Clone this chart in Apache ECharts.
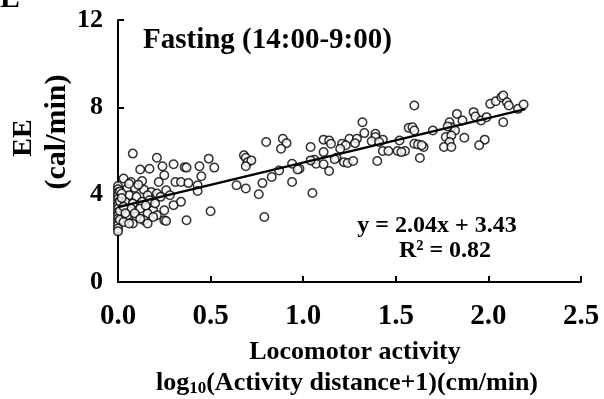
<!DOCTYPE html>
<html>
<head>
<meta charset="utf-8">
<script src="https://cdn.jsdelivr.net/npm/echarts@6/dist/echarts.min.js"></script>
<style>
html,body{margin:0;padding:0;background:#fff;}
#chart{width:604px;height:399px;}
</style>
</head>
<body>
<div id="chart"></div>
<script>
// Locomotor activity, log10(distance+1)
const activityX = [
  0,0,0,0,0,0,0,0,0,0,0,0,0,0,0,
  0.01,0.01,0.01,0.01,
  0.08,0.21,0.12,0.17,0.24,0.30,0.36,0.25,0.03,0.07,0.13,0.22,0.31,0.34,
  0.05,0.09,0.14,0.18,0.06,0.10,0.16,0.21,0.26,0.04,0.08,0.13,0.17,0.23,0.28,0.07,0.12,0.19,0.25,0.05,0.10,0.16,0.21,0.03,0.08,0.14,0.19,0.25,0.37,0.30,0.34,0.26,0.16,0.06,0.50,
  0.02,0.03,0.04,0.11,0.15,0.20,0.09,0.02,0.06,0.12,
  0.49,0.44,0.52,0.37,0.45,0.38,0.43,0.43,0.68,0.69,0.70,0.72,0.69,0.64,0.69,0.76,0.78,0.79,0.80,
  0.89,0.91,0.88,1.04,1.11,1.14,1.15,1.11,0.94,0.98,0.97,0.87,0.83,0.94,1.05,1.06,1.07,1.11,1.14,1.18,1.04,
  1.32,1.33,1.25,1.29,1.28,1.21,1.23,1.20,1.39,1.39,1.43,1.37,1.41,1.52,1.57,1.60,1.60,1.43,1.46,1.51,1.55,1.53,1.22,1.24,1.27,1.40,1.17,
  1.83,1.92,1.93,1.96,1.99,2.01,1.79,1.80,1.78,1.86,1.82,1.70,1.59,1.60,1.62,1.65,1.64,1.77,1.80,1.79,1.76,1.80,1.87,1.98,1.95,1.63,
  2.04,2.07,2.08,2.10,2.11,2.16,2.19,2.08
];
// Energy expenditure (cal/min)
const eeY = [
  4.40,4.25,4.10,3.95,3.80,3.65,3.50,3.35,3.20,3.05,2.90,2.75,2.60,2.45,2.32,
  4.15,3.70,3.25,2.85,
  5.88,5.69,5.15,5.19,5.30,5.39,5.26,4.89,4.74,4.58,4.63,4.58,4.58,4.58,
  4.28,4.32,4.23,4.12,3.97,3.90,3.97,4.05,4.20,3.67,3.59,3.67,3.74,3.90,3.97,3.37,3.37,3.29,3.29,3.06,2.98,3.14,3.06,2.75,2.68,2.83,2.98,2.83,2.83,3.52,3.67,2.79,2.68,2.68,3.24,
  4.05,3.45,3.15,4.45,3.50,3.60,3.15,3.85,4.50,2.90,
  5.65,5.30,5.24,5.24,4.84,4.53,4.43,4.17,5.80,5.69,5.49,5.57,5.30,4.43,4.28,4.02,4.53,2.98,6.41,
  6.56,6.36,6.10,6.18,6.52,6.48,6.33,5.95,5.42,5.19,5.15,5.11,4.81,4.58,4.08,5.60,5.42,5.39,5.08,5.69,5.57,
  7.32,6.82,6.56,6.56,6.36,6.33,6.26,6.10,6.79,6.64,6.52,6.45,6.41,6.48,7.06,8.08,6.33,6.00,6.00,6.00,6.00,5.95,5.49,5.45,5.54,5.54,5.62,
  7.70,7.78,7.58,7.40,7.55,8.16,7.32,7.09,7.12,7.40,6.94,6.94,7.09,6.94,6.30,6.18,6.26,6.64,6.71,6.41,6.18,6.18,6.61,6.52,6.26,5.68,
  8.28,8.46,8.54,8.23,8.08,7.93,8.13,7.32
];
const xTicks = [0.0, 0.5, 1.0, 1.5, 2.0, 2.5];
const yTicks = [0, 4, 8, 12];
const fitSlope = 2.04;
const fitIntercept = 3.43;
const fitRange = [0, 2.2];
const r2 = 0.82;

const chart = echarts.init(document.getElementById('chart'), null, {renderer: 'canvas'});
const FONT = '"Liberation Serif", "Times New Roman", serif';
const points = activityX.map((x, i) => [x, eeY[i]]);
const fitLine = fitRange.map(x => [x, fitSlope * x + fitIntercept]);

chart.setOption({
  animation: false,
  backgroundColor: '#fff',
  grid: {left: 118, right: 23, top: 20, bottom: 117, containLabel: false},
  xAxis: {
    type: 'value', min: xTicks[0], max: xTicks[xTicks.length - 1], interval: 0.5,
    axisLine: {show: true, onZero: false, lineStyle: {color: '#000', width: 2}},
    axisTick: {show: true, inside: true, length: 6, lineStyle: {color: '#000', width: 2}},
    splitLine: {show: false},
    axisLabel: {color: '#000', fontFamily: FONT, fontWeight: 'bold', fontSize: 29, margin: 20,
      formatter: v => v.toFixed(1)}
  },
  yAxis: {
    type: 'value', min: yTicks[0], max: yTicks[yTicks.length - 1], interval: 4,
    axisLine: {show: true, onZero: false, lineStyle: {color: '#000', width: 2}},
    axisTick: {show: true, inside: true, length: 6, lineStyle: {color: '#000', width: 2}},
    splitLine: {show: false},
    axisLabel: {color: '#000', fontFamily: FONT, fontWeight: 'bold', fontSize: 26, margin: 15}
  },
  series: [
    {
      type: 'scatter', data: points, symbol: 'circle', symbolSize: 8.5,
      itemStyle: {color: '#fff', borderColor: '#000', borderWidth: 1.5},
      z: 2
    },
    {
      type: 'line', data: fitLine, showSymbol: false, symbol: 'none',
      lineStyle: {color: '#000', width: 2.5}, z: 3
    }
  ],
  graphic: [
    {type: 'text', left: 0, top: -16, style: {text: 'E', font: 'bold 30px ' + FONT, fill: '#000'}},
    {type: 'text', x: 143, y: 41, style: {text: 'Fasting (14:00-9:00)', font: 'bold 29px ' + FONT, fill: '#000', textVerticalAlign: 'middle'}},
    {type: 'text', x: 437, y: 226, style: {text: 'y = ' + fitSlope.toFixed(2) + 'x + ' + fitIntercept.toFixed(2), font: 'bold 24px ' + FONT, fill: '#000', textAlign: 'center', textVerticalAlign: 'middle'}},
    {type: 'text', x: 445, y: 251, style: {text: 'R² = ' + r2.toFixed(2), font: 'bold 24px ' + FONT, fill: '#000', textAlign: 'center', textVerticalAlign: 'middle'}},
    {type: 'text', x: 24, y: 138, rotation: Math.PI / 2, style: {text: 'EE', font: 'bold 28px ' + FONT, fill: '#000', textAlign: 'center', textVerticalAlign: 'middle'}},
    {type: 'text', x: 57, y: 132, rotation: Math.PI / 2, style: {text: '(cal/min)', font: 'bold 30px ' + FONT, fill: '#000', textAlign: 'center', textVerticalAlign: 'middle'}},
    {type: 'text', x: 355, y: 352, style: {text: 'Locomotor activity', font: 'bold 26px ' + FONT, fill: '#000', textAlign: 'center', textVerticalAlign: 'middle'}},
    {type: 'text', x: 347, y: 383, style: {
      text: '{a|log}{s|10}{a|(Activity distance+1)(cm/min)}',
      textAlign: 'center', textVerticalAlign: 'middle',
      rich: {
        a: {font: 'bold 26px ' + FONT, fill: '#000'},
        s: {font: 'bold 17px ' + FONT, fill: '#000', padding: [11, 0, 0, 0]}
      }
    }}
  ]
});
</script>
</body>
</html>
